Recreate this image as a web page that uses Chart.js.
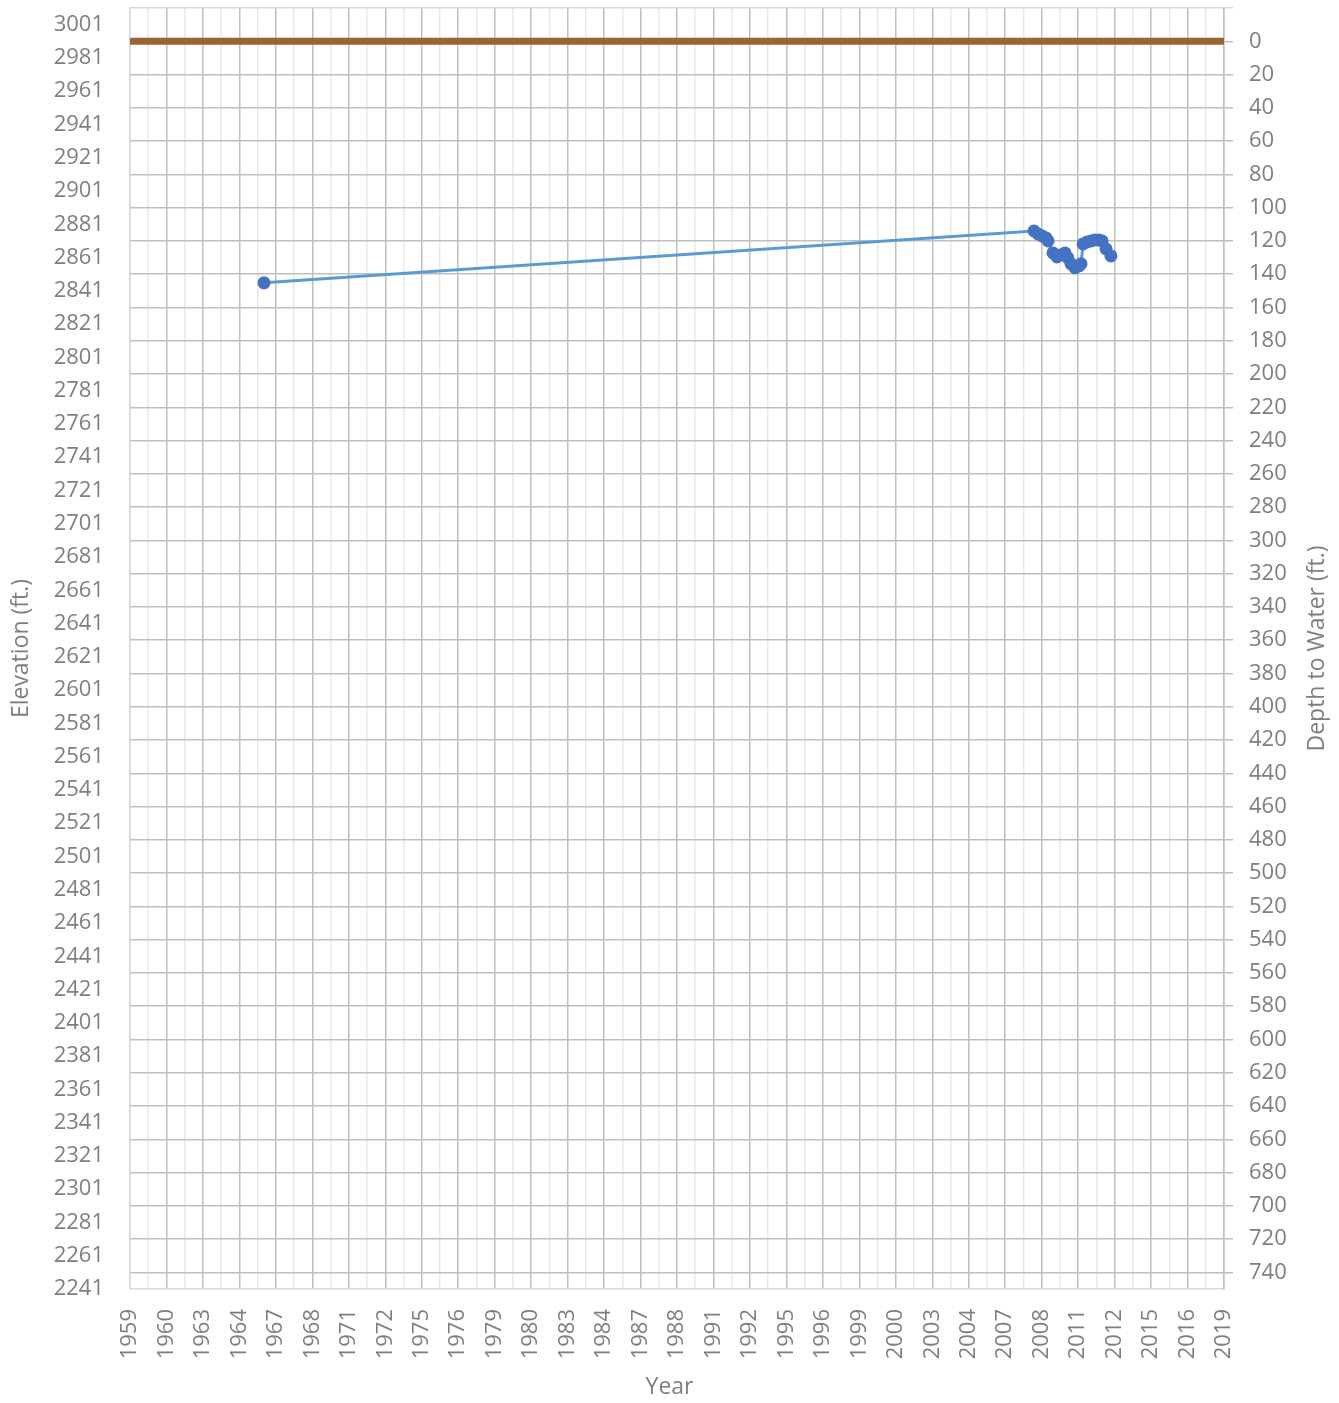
<!DOCTYPE html>
<html>
<head>
<meta charset="utf-8">
<title>Well hydrograph</title>
<script src="https://cdn.jsdelivr.net/npm/chart.js@4/dist/chart.umd.min.js"></script>
<style>
  html, body { margin: 0; padding: 0; background: #fff; }
  #chart { display: block; }
</style>
</head>
<body>
<canvas id="chart" width="1339" height="1403"></canvas>
<script>
// measurement dates (decimal years) and depth to water (ft. below ground)
const obsYears = [1966.35, 2008.58, 2008.80, 2009.02, 2009.24, 2009.35, 2009.62, 2009.84,
  2010.06, 2010.28, 2010.44, 2010.61, 2010.83, 2011.05, 2011.16, 2011.27, 2011.49,
  2011.71, 2011.92, 2012.14, 2012.31, 2012.53, 2012.80];
const depthToWater = [145.2, 114.0, 115.8, 117.0, 118.2, 120.0, 127.2, 129.6,
  128.4, 127.2, 130.2, 133.8, 136.2, 135.0, 133.8, 121.8, 120.6,
  120.0, 119.4, 119.4, 120.0, 124.8, 129.0];

// ground surface (depth 0) across the whole axis
const groundYears = [1959, 2019];
const groundDepth = [0, 0];

// axis labels as printed on the original
const yearLabels = ['1959', '1960', '1963', '1964', '1967', '1968', '1971', '1972', '1975', '1976',
  '1979', '1980', '1983', '1984', '1987', '1988', '1991', '1992', '1995', '1996',
  '1999', '2000', '2003', '2004', '2007', '2008', '2011', '2012', '2015', '2016', '2019'];
const elevTicks = [2241, 2261, 2281, 2301, 2321, 2341, 2361, 2381, 2401, 2421, 2441, 2461, 2481,
  2501, 2521, 2541, 2561, 2581, 2601, 2621, 2641, 2661, 2681, 2701, 2721, 2741, 2761, 2781,
  2801, 2821, 2841, 2861, 2881, 2901, 2921, 2941, 2961, 2981, 3001];
const depthTicks = [0, 20, 40, 60, 80, 100, 120, 140, 160, 180, 200, 220, 240, 260, 280, 300,
  320, 340, 360, 380, 400, 420, 440, 460, 480, 500, 520, 540, 560, 580, 600, 620, 640, 660,
  680, 700, 720, 740];

const textGray = '#7f7f7f';
const gridGray = '#bfbfbf';
const minorGray = '#e8e8e8';
const edgeGray = '#d9d9d9';
const font = { family: '"Open Sans", sans-serif', size: 22 };
const titleFont = { family: '"Open Sans", sans-serif', size: 23 };

// Excel-style titles: right one reads bottom-to-top, "Year" centred on the page
const extraTitles = {
  id: 'extraTitles',
  afterDraw(chart) {
    const s = chart.scales.yDepth;
    const area = chart.chartArea;
    const ctx = chart.ctx;
    ctx.save();
    ctx.font = `${titleFont.size}px ${titleFont.family}`;
    ctx.fillStyle = textGray;
    ctx.textAlign = 'center';
    ctx.textBaseline = 'middle';
    ctx.fillText('Year', chart.width / 2, chart.height - 16);
    ctx.translate(s.right - 22, (area.top + area.bottom) / 2);
    ctx.rotate(-Math.PI / 2);
    ctx.fillText('Depth to Water (ft.)', 0, 0);
    ctx.restore();
  }
};

new Chart(document.getElementById('chart'), {
  type: 'line',
  data: {
    datasets: [
      {
        label: 'Ground surface',
        data: groundYears.map((x, i) => ({ x, y: groundDepth[i] })),
        yAxisID: 'yDepth',
        borderColor: '#996633',
        borderWidth: 7,
        pointRadius: 0
      },
      {
        label: 'Depth to water',
        data: obsYears.map((x, i) => ({ x, y: depthToWater[i] })),
        yAxisID: 'yDepth',
        borderColor: '#5B9BD5',
        borderWidth: 3,
        pointRadius: 5,
        pointBackgroundColor: '#4472C4',
        pointBorderColor: '#4472C4',
        tension: 0
      }
    ]
  },
  options: {
    responsive: false,
    animation: false,
    layout: { padding: { top: 6, left: 0, right: 0, bottom: 0 } },
    plugins: {
      legend: { display: false },
      tooltip: { enabled: false }
    },
    scales: {
      x: {
        type: 'linear',
        position: 'bottom',
        min: 1959,
        max: 2019,
        afterBuildTicks: (s) => {
          const t = [];
          for (let v = s.min; v <= s.max; v++) t.push({ value: v });
          s.ticks = t;
        },
        afterFit: (s) => { s.height = 114; s.paddingLeft = 0; s.paddingRight = 0; },
        ticks: {
          autoSkip: false,
          minRotation: 90,
          maxRotation: 90,
          padding: 20,
          color: textGray,
          font,
          callback: (v, i) => (i % 2 === 0 ? yearLabels[i / 2] : '')
        },
        grid: {
          drawTicks: false,
          lineWidth: 1.5,
          color: (c) => (c.index === 0 ? edgeGray : c.index % 2 === 0 ? gridGray : minorGray)
        },
        border: { color: edgeGray, width: 1.5 }
      },
      yElev: {
        type: 'linear',
        position: 'left',
        min: 2241,
        max: 3011,
        afterBuildTicks: (s) => { s.ticks = elevTicks.map(v => ({ value: v })); },
        afterFit: (s) => { s.width = 130; s.paddingTop = 0; s.paddingBottom = 0; },
        ticks: { padding: 26, color: textGray, font, callback: (v) => String(v) },
        grid: { display: false, drawTicks: false },
        border: { color: edgeGray, width: 1.5 },
        title: { display: true, text: 'Elevation (ft.)', color: textGray, font: titleFont, padding: { top: 8, bottom: 0 } }
      },
      yDepth: {
        type: 'linear',
        position: 'right',
        reverse: true,
        min: -20,
        max: 750,
        afterBuildTicks: (s) => {
          s.ticks = [{ value: s.min }].concat(depthTicks.map(v => ({ value: v })));
        },
        afterFit: (s) => { s.width = 115; s.paddingTop = 0; s.paddingBottom = 0; },
        ticks: {
          padding: 16,
          color: textGray,
          font,
          callback: (v) => (v < 0 ? '' : String(v))
        },
        grid: {
          drawTicks: true,
          tickLength: 9,
          lineWidth: 1.5,
          color: (c) => (c.tick && c.tick.value < 0 ? edgeGray : gridGray)
        },
        border: { color: gridGray, width: 1.5 }
      }
    }
  },
  plugins: [extraTitles]
});
</script>
</body>
</html>
